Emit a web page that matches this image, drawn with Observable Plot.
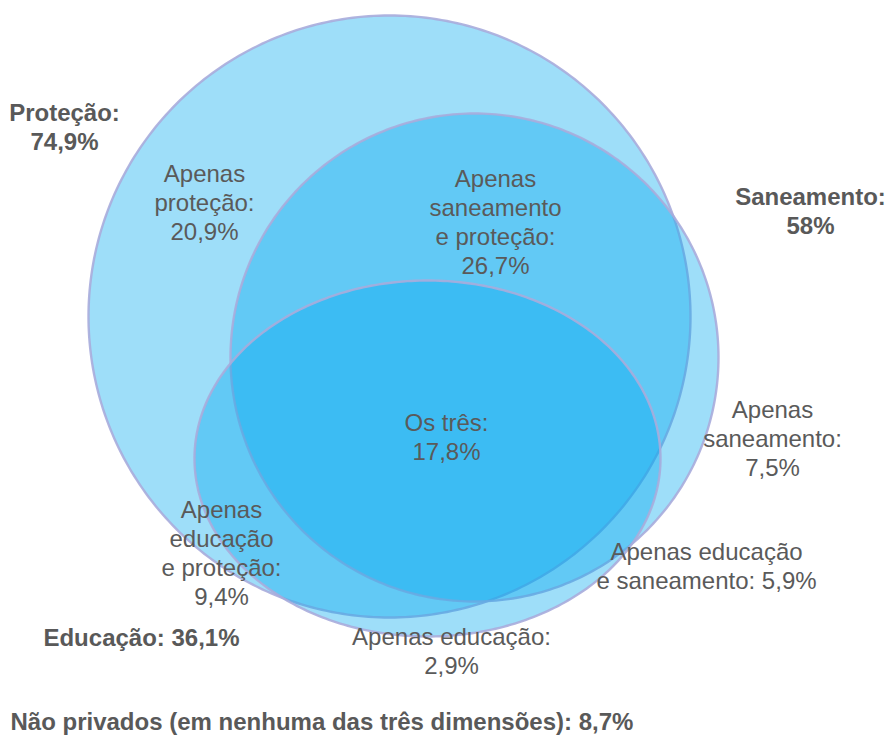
<!DOCTYPE html>
<html><head><meta charset="utf-8">
<script src="https://cdn.jsdelivr.net/npm/d3@7"></script>
<script src="https://cdn.jsdelivr.net/npm/@observablehq/plot@0.6"></script>
<style>body{margin:0;background:#fff} svg{display:block}</style>
</head><body><div id="chart"></div>
<script>
// ---- data ----
const sets = ["Proteção", "Saneamento", "Educação"];
const setValues = [74.9, 58, 36.1];
const regions = ["Apenas proteção", "Apenas saneamento e proteção", "Os três", "Apenas saneamento",
  "Apenas educação e proteção", "Apenas educação e saneamento", "Apenas educação"];
const regionValues = [20.9, 26.7, 17.8, 7.5, 9.4, 5.9, 2.9];
const noneLabel = "Não privados (em nenhuma das três dimensões)";
const noneValue = 8.7;

// ---- layout (geometry & label placement, not data) ----
const W = 889, H = 738;
const shapes = {
  "Proteção":   {cx: 389, cy: 316, rx: 301, ry: 301},
  "Saneamento": {cx: 474, cy: 357, rx: 244, ry: 244},
  "Educação":   {cx: 427, cy: 458, rx: 233, ry: 178}
};
const setLabelPos = {
  "Proteção":   {x: 64,  y: 126, text: (n, v) => `${n}:\n${v}%`},
  "Saneamento": {x: 810, y: 210, text: (n, v) => `${n}:\n${v}%`},
  "Educação":   {x: 141, y: 636, text: (n, v) => `${n}: ${v}%`}
};
const regionLabelPos = {
  "Apenas proteção": {x: 204, y: 201, text: v => `Apenas\nproteção:\n${v}%`},
  "Apenas saneamento e proteção": {x: 495, y: 221, text: v => `Apenas\nsaneamento\ne proteção:\n${v}%`},
  "Os três": {x: 446, y: 436, text: v => `Os três:\n${v}%`},
  "Apenas saneamento": {x: 772, y: 437, text: v => `Apenas\nsaneamento:\n${v}%`},
  "Apenas educação e proteção": {x: 221, y: 552, text: v => `Apenas\neducação\ne proteção:\n${v}%`},
  "Apenas educação e saneamento": {x: 706, y: 565, text: v => `Apenas educação\ne saneamento: ${v}%`},
  "Apenas educação": {x: 451, y: 650, text: v => `Apenas educação:\n${v}%`}
};

const fmt = v => v.toLocaleString("pt-BR");

const outline = sets.flatMap(s => {
  const g = shapes[s];
  return d3.range(0, 360, 1).map(a => ({
    set: s,
    x: g.cx + g.rx * Math.cos(a * Math.PI / 180),
    y: g.cy + g.ry * Math.sin(a * Math.PI / 180)
  }));
});

const setLabels = sets.map((s, i) => ({
  x: setLabelPos[s].x, y: setLabelPos[s].y, text: setLabelPos[s].text(s, fmt(setValues[i]))
}));
const regionLabels = regions.map((r, i) => ({
  x: regionLabelPos[r].x, y: regionLabelPos[r].y, text: regionLabelPos[r].text(fmt(regionValues[i]))
}));
const noneLabels = [{x: 10, y: 722, text: `${noneLabel}: ${fmt(noneValue)}%`}];

const chart = Plot.plot({
  width: W, height: H, margin: 0,
  x: {domain: [0, W], range: [0, W], axis: null},
  y: {domain: [0, H], range: [0, H], axis: null},
  style: {fontFamily: "'Liberation Sans', Arial, sans-serif", background: "#fff"},
  marks: [
    Plot.line(outline, {x: "x", y: "y", z: "set", curve: "linear-closed",
      fill: "#00a8ee", fillOpacity: 0.38, stroke: "#a9acdc", strokeWidth: 2.4, strokeOpacity: 0.9}),
    Plot.text(regionLabels, {x: "x", y: "y", text: "text", fontSize: 24, fill: "#5a5a5a", lineHeight: 1.21}),
    Plot.text(setLabels, {x: "x", y: "y", text: "text", fontSize: 24, fontWeight: "bold", fill: "#595959", lineHeight: 1.21}),
    Plot.text(noneLabels, {x: "x", y: "y", text: "text", fontSize: 24, fontWeight: "bold", fill: "#595959", textAnchor: "start"})
  ]
});
document.getElementById("chart").appendChild(chart);
</script>
</body></html>
